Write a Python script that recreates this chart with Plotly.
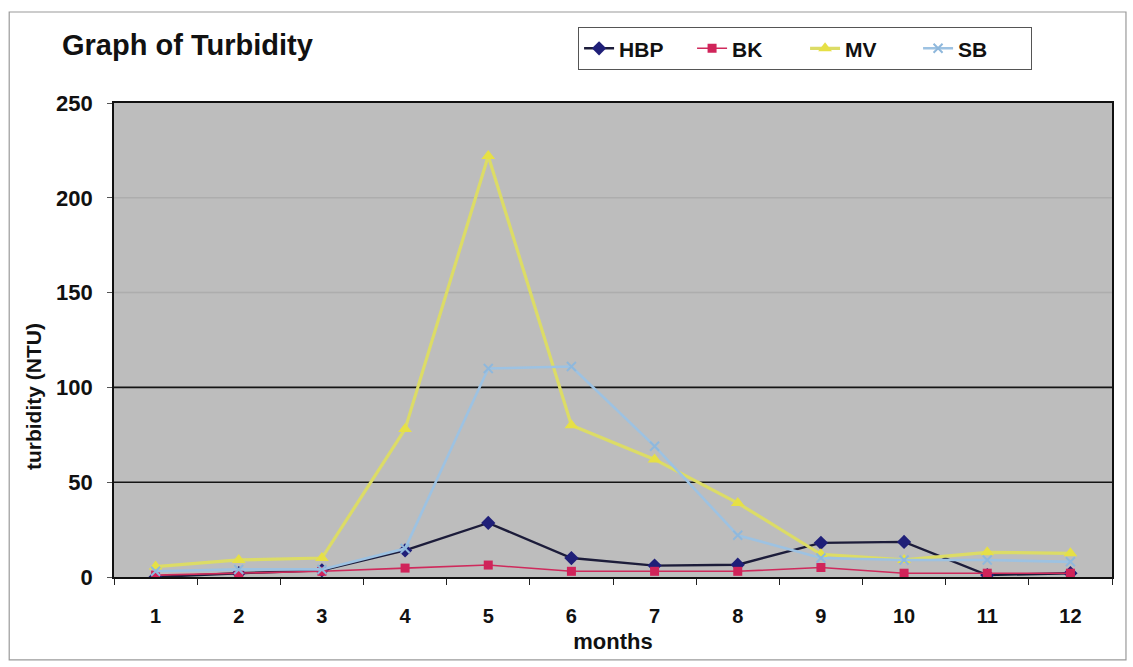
import plotly.graph_objects as go

# Monthly turbidity readings (NTU) for four sampling sites
months = [1, 2, 3, 4, 5, 6, 7, 8, 9, 10, 11, 12]
hbp = [0, 2, 3.5, 14, 28.5, 10, 6, 6.5, 18, 18.5, 1, 2]
bk = [1, 2, 3, 4.7, 6.3, 3, 3, 3, 5, 2, 2, 2]
mv = [5.5, 9, 10, 78, 222, 80, 62, 39, 12, 9, 13, 12.5]
sb = [3, 4, 4, 15, 110, 111, 69, 22, 10, 9, 9, 8]

y_ticks = [0, 50, 100, 150, 200, 250]
dark_grid = [50, 100]
faint_grid = [150, 200]

FONT = "Liberation Sans, Arial, sans-serif"

fig = go.Figure()

fig.add_trace(go.Scatter(
    x=months, y=hbp, name="HBP", mode="lines+markers",
    line=dict(color="#1c1c3a", width=2.4),
    marker=dict(symbol="diamond", size=11, color="#1f1f78",
                line=dict(color="#1f1f78", width=0)),
))
fig.add_trace(go.Scatter(
    x=months, y=bk, name="BK", mode="lines+markers",
    line=dict(color="#cf2a5c", width=1.6),
    marker=dict(symbol="square", size=9, color="#d0245a"),
))
fig.add_trace(go.Scatter(
    x=months, y=mv, name="MV", mode="lines+markers",
    line=dict(color="#dcdc66", width=3.2),
    marker=dict(symbol="triangle-up", size=12, color="#e6e045"),
))
fig.add_trace(go.Scatter(
    x=months, y=sb, name="SB", mode="lines+markers",
    line=dict(color="#9dc2e2", width=2.6),
    marker=dict(symbol="x-thin", size=9, color="#8fb8dc",
                line=dict(color="#8fb8dc", width=2)),
))

# Horizontal gridlines: darker at 50/100, faint above
for v in dark_grid:
    fig.add_hline(y=v, line=dict(color="#151515", width=1.6), layer="below")
for v in faint_grid:
    fig.add_hline(y=v, line=dict(color="#adadad", width=1.5), layer="below")

# Outer chart frame
fig.add_shape(type="rect", xref="paper", yref="paper",
              x0=-0.105, x1=1.014, y0=-0.175, y1=1.192,
              line=dict(color="#9a9a9a", width=1.2), fillcolor="rgba(0,0,0,0)")

# Vertical axis title, set slightly below the plot's mid-height
fig.add_annotation(text="turbidity (NTU)", textangle=-90,
                   xref="paper", yref="paper", x=-0.080, y=0.38,
                   xanchor="center", yanchor="middle", showarrow=False,
                   font=dict(family=FONT, size=21, color="#111111", weight="bold"))

fig.update_layout(
    width=1133, height=667,
    margin=dict(l=114, r=21, t=103, b=90),
    paper_bgcolor="white",
    plot_bgcolor="#bdbdbd",
    font=dict(family=FONT, size=20, color="#111111", weight="bold"),
    title=dict(text="Graph of Turbidity", x=62 / 1133, xanchor="left",
               y=1 - 45 / 667, yanchor="middle",
               font=dict(family=FONT, size=29, color="#111111", weight="bold")),
    showlegend=True,
    legend=dict(orientation="h", x=0.465, xanchor="left", y=1.160, yanchor="top",
                bgcolor="white", bordercolor="#555555", borderwidth=1,
                entrywidth=68, entrywidthmode="pixels",
                font=dict(family=FONT, size=21, color="#111111", weight="bold"),
                tracegroupgap=0),
)

fig.update_xaxes(
    range=[0.5, 12.5], tickmode="array", tickvals=months,
    ticktext=[str(m) for m in months],
    ticks="", showgrid=False, zeroline=False,
    showline=True, linecolor="#111111", linewidth=1.6, mirror=True,
    ticklabelstandoff=20,
    minor=dict(tick0=0.5, dtick=1, ticks="outside", ticklen=6,
               tickcolor="#222222", tickwidth=1, showgrid=False),
    title=dict(text="months", standoff=8,
               font=dict(family=FONT, size=22, color="#111111", weight="bold")),
    tickfont=dict(family=FONT, size=20, color="#111111", weight="bold"),
)

fig.update_yaxes(
    range=[0, 250], tickmode="array", tickvals=y_ticks,
    ticks="outside", ticklen=5, tickcolor="#555555",
    showgrid=False, zeroline=False,
    showline=True, linecolor="#111111", linewidth=1.6, mirror=True,
    ticklabelstandoff=10,
    tickfont=dict(family=FONT, size=22, color="#111111", weight="bold"),
)

fig.write_html("out.html")
